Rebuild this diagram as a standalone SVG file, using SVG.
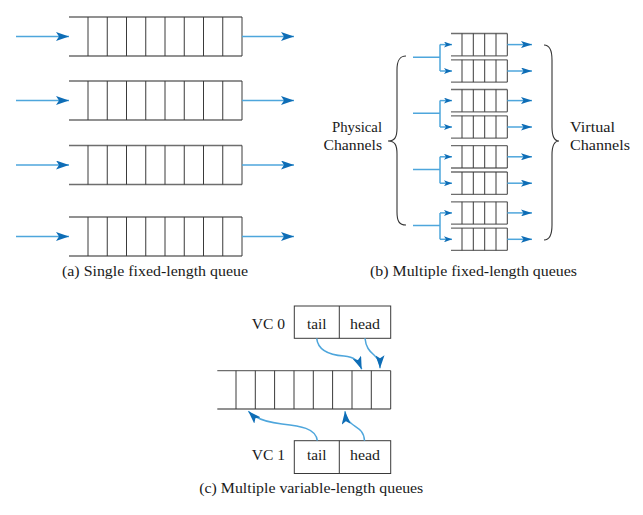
<svg xmlns="http://www.w3.org/2000/svg" width="643" height="515" viewBox="0 0 643 515">
<defs>
<style>
.bg{fill:#ffffff}
.qh{fill:none;stroke:#6e6e6e;stroke-width:1.3}
.qv{fill:none;stroke:#3a3a3a;stroke-width:1}
.box{fill:#ffffff;stroke:#3a3a3a;stroke-width:1}
.arr{fill:none;stroke:#4ea6dc;stroke-width:1.5}
.brace{fill:none;stroke:#333333;stroke-width:1.1}
.t{font-family:"Liberation Serif","DejaVu Serif","Noto Serif",serif;font-size:15.5px;fill:#1a1a1a}
.mid{text-anchor:middle}
.end{text-anchor:end}
</style>
<marker id="ah" markerUnits="userSpaceOnUse" markerWidth="14" markerHeight="9" refX="13" refY="4.5" orient="auto">
<path d="M0,0 L13,4.5 L0,9 L3,4.5 Z" fill="#0e6db6"/>
</marker>
<marker id="ahm" markerUnits="userSpaceOnUse" markerWidth="12" markerHeight="7" refX="11" refY="3.5" orient="auto">
<path d="M0,0 L11,3.5 L0,7 L2.5,3.5 Z" fill="#0e6db6"/>
</marker>
<marker id="ahs" markerUnits="userSpaceOnUse" markerWidth="9" markerHeight="6" refX="8" refY="3" orient="auto">
<path d="M0,0 L8,3 L0,6 L2,3 Z" fill="#0e6db6"/>
</marker>
</defs>
<rect class="bg" x="0" y="0" width="643" height="515"/>

<!-- Panel (a) -->
<g id="queue-a1">
<path class="qh" d="M69,17 H242 M69,56 H242"/>
<path class="qv" d="M88,17 V56 M107.25,17 V56 M126.5,17 V56 M145.75,17 V56 M165,17 V56 M184.25,17 V56 M203.5,17 V56 M222.75,17 V56 M242,17 V56"/>
</g>
<g id="queue-a2">
<path class="qh" d="M69,81 H242 M69,120 H242"/>
<path class="qv" d="M88,81 V120 M107.25,81 V120 M126.5,81 V120 M145.75,81 V120 M165,81 V120 M184.25,81 V120 M203.5,81 V120 M222.75,81 V120 M242,81 V120"/>
</g>
<g id="queue-a3">
<path class="qh" d="M69,145.5 H242 M69,184.5 H242"/>
<path class="qv" d="M88,145.5 V184.5 M107.25,145.5 V184.5 M126.5,145.5 V184.5 M145.75,145.5 V184.5 M165,145.5 V184.5 M184.25,145.5 V184.5 M203.5,145.5 V184.5 M222.75,145.5 V184.5 M242,145.5 V184.5"/>
</g>
<g id="queue-a4">
<path class="qh" d="M69,217 H242 M69,256 H242"/>
<path class="qv" d="M88,217 V256 M107.25,217 V256 M126.5,217 V256 M145.75,217 V256 M165,217 V256 M184.25,217 V256 M203.5,217 V256 M222.75,217 V256 M242,217 V256"/>
</g>
<g id="caption-a">
<text x="155" y="276" class="t mid" textLength="186" lengthAdjust="spacingAndGlyphs">(a) Single fixed-length queue</text>
</g>

<!-- Panel (b) -->
<g id="queue-b1">
<path class="qh" d="M451,33.5 H507.3 M451,55.8 H507.3"/>
<path class="qv" d="M462,33.5 V55.8 M473.3,33.5 V55.8 M484.7,33.5 V55.8 M496,33.5 V55.8 M507.3,33.5 V55.8"/>
</g>
<g id="queue-b2">
<path class="qh" d="M451,59.8 H507.3 M451,82.1 H507.3"/>
<path class="qv" d="M462,59.8 V82.1 M473.3,59.8 V82.1 M484.7,59.8 V82.1 M496,59.8 V82.1 M507.3,59.8 V82.1"/>
</g>
<g id="queue-b3">
<path class="qh" d="M451,89.5 H507.3 M451,111.8 H507.3"/>
<path class="qv" d="M462,89.5 V111.8 M473.3,89.5 V111.8 M484.7,89.5 V111.8 M496,89.5 V111.8 M507.3,89.5 V111.8"/>
</g>
<g id="queue-b4">
<path class="qh" d="M451,115.8 H507.3 M451,138.1 H507.3"/>
<path class="qv" d="M462,115.8 V138.1 M473.3,115.8 V138.1 M484.7,115.8 V138.1 M496,115.8 V138.1 M507.3,115.8 V138.1"/>
</g>
<g id="queue-b5">
<path class="qh" d="M451,145.7 H507.3 M451,168 H507.3"/>
<path class="qv" d="M462,145.7 V168 M473.3,145.7 V168 M484.7,145.7 V168 M496,145.7 V168 M507.3,145.7 V168"/>
</g>
<g id="queue-b6">
<path class="qh" d="M451,172 H507.3 M451,194.3 H507.3"/>
<path class="qv" d="M462,172 V194.3 M473.3,172 V194.3 M484.7,172 V194.3 M496,172 V194.3 M507.3,172 V194.3"/>
</g>
<g id="queue-b7">
<path class="qh" d="M451,201.8 H507.3 M451,224.1 H507.3"/>
<path class="qv" d="M462,201.8 V224.1 M473.3,201.8 V224.1 M484.7,201.8 V224.1 M496,201.8 V224.1 M507.3,201.8 V224.1"/>
</g>
<g id="queue-b8">
<path class="qh" d="M451,228.1 H507.3 M451,250.4 H507.3"/>
<path class="qv" d="M462,228.1 V250.4 M473.3,228.1 V250.4 M484.7,228.1 V250.4 M496,228.1 V250.4 M507.3,228.1 V250.4"/>
</g>
<g id="brace-physical">
<path class="brace" d="M406,56 C399,56 397,61 397,70 L397,128 C397,137 395,141 388,141 C395,141 397,145 397,154 L397,212 C397,221 399,225 406,225"/>
</g>
<g id="label-physical">
<text x="382" y="131.5" class="t end" textLength="50" lengthAdjust="spacingAndGlyphs">Physical</text>
<text x="382" y="150" class="t end" textLength="58.5" lengthAdjust="spacingAndGlyphs">Channels</text>
</g>
<g id="brace-virtual">
<path class="brace" d="M544,45 C550,45 552,50 552,60 L552,127 C552,136 554,141 559,141 C554,141 552,146 552,155 L552,225 C552,235 550,240 544,240"/>
</g>
<g id="label-virtual">
<text x="570" y="131.5" class="t" textLength="45" lengthAdjust="spacingAndGlyphs">Virtual</text>
<text x="570" y="150" class="t" textLength="60" lengthAdjust="spacingAndGlyphs">Channels</text>
</g>
<g id="caption-b">
<text x="473.5" y="276" class="t mid" textLength="207" lengthAdjust="spacingAndGlyphs">(b) Multiple fixed-length queues</text>
</g>

<!-- Panel (c) -->
<g id="vc0">
<rect class="box" x="294.3" y="306" width="96.4" height="32.3"/>
<path class="qv" d="M339.3,306 V338.3"/>
<text x="316.8" y="329" class="t mid" textLength="19.5" lengthAdjust="spacingAndGlyphs">tail</text>
<text x="365" y="329" class="t mid" textLength="30" lengthAdjust="spacingAndGlyphs">head</text>
<text x="285" y="329" class="t end" textLength="33.3" lengthAdjust="spacingAndGlyphs">VC 0</text>
</g>
<g id="queue-c">
<path class="qh" d="M217.3,370.7 H390.7 M217.3,409 H390.7"/>
<path class="qv" d="M236,370.7 V409 M255.3,370.7 V409 M274.6,370.7 V409 M294,370.7 V409 M313.3,370.7 V409 M332.6,370.7 V409 M352,370.7 V409 M371.3,370.7 V409 M390.7,370.7 V409"/>
</g>
<g id="vc1">
<rect class="box" x="294.3" y="440.7" width="96.4" height="32.8"/>
<path class="qv" d="M339.3,440.7 V473.5"/>
<text x="316.8" y="460" class="t mid" textLength="19.5" lengthAdjust="spacingAndGlyphs">tail</text>
<text x="365" y="460" class="t mid" textLength="30" lengthAdjust="spacingAndGlyphs">head</text>
<text x="285" y="460" class="t end" textLength="33.3" lengthAdjust="spacingAndGlyphs">VC 1</text>
</g>
<g id="caption-c">
<text x="311.3" y="493" class="t mid" textLength="224" lengthAdjust="spacingAndGlyphs">(c) Multiple variable-length queues</text>
</g>

<!-- Connectors -->
<g id="connectors">
<path class="arr" marker-end="url(#ah)" d="M16,36.5 H69"/>
<path class="arr" marker-end="url(#ah)" d="M242,36.5 H294"/>
<path class="arr" marker-end="url(#ah)" d="M16,100.5 H69"/>
<path class="arr" marker-end="url(#ah)" d="M242,100.5 H294"/>
<path class="arr" marker-end="url(#ah)" d="M16,165 H69"/>
<path class="arr" marker-end="url(#ah)" d="M242,165 H294"/>
<path class="arr" marker-end="url(#ah)" d="M16,236.5 H69"/>
<path class="arr" marker-end="url(#ah)" d="M242,236.5 H294"/>

<path class="arr" d="M413,57.3 H440 M440,44.6 V71"/>
<path class="arr" marker-end="url(#ahs)" d="M440,44.6 H452"/>
<path class="arr" marker-end="url(#ahs)" d="M440,71 H452"/>
<path class="arr" d="M413,113.3 H440 M440,100.6 V127"/>
<path class="arr" marker-end="url(#ahs)" d="M440,100.6 H452"/>
<path class="arr" marker-end="url(#ahs)" d="M440,127 H452"/>
<path class="arr" d="M413,169.5 H440 M440,156.8 V183.2"/>
<path class="arr" marker-end="url(#ahs)" d="M440,156.8 H452"/>
<path class="arr" marker-end="url(#ahs)" d="M440,183.2 H452"/>
<path class="arr" d="M413,225.6 H440 M440,212.9 V239.3"/>
<path class="arr" marker-end="url(#ahs)" d="M440,212.9 H452"/>
<path class="arr" marker-end="url(#ahs)" d="M440,239.3 H452"/>

<path class="arr" marker-end="url(#ahm)" d="M507.3,44.6 H532"/>
<path class="arr" marker-end="url(#ahm)" d="M507.3,71 H532"/>
<path class="arr" marker-end="url(#ahm)" d="M507.3,100.6 H532"/>
<path class="arr" marker-end="url(#ahm)" d="M507.3,127 H532"/>
<path class="arr" marker-end="url(#ahm)" d="M507.3,156.8 H532"/>
<path class="arr" marker-end="url(#ahm)" d="M507.3,183.2 H532"/>
<path class="arr" marker-end="url(#ahm)" d="M507.3,212.9 H532"/>
<path class="arr" marker-end="url(#ahm)" d="M507.3,239.3 H532"/>

<path class="arr" marker-end="url(#ah)" d="M316.7,338.3 C318,351 330,355 344,356 C354,357 358,360 361.7,369.3"/>
<path class="arr" marker-end="url(#ah)" d="M365,338.3 C366,349 371,352 375,356 C378.5,359.5 380,362 380,368.3"/>
<path class="arr" marker-end="url(#ah)" d="M317.3,440.7 C316,428 300,426 282,424 C264,422 255,418 248.3,411.3"/>
<path class="arr" marker-end="url(#ah)" d="M364.5,440.7 C364,430 357,428 352,424 C348,421 345.5,417 345,411.3"/>
</g>
</svg>
